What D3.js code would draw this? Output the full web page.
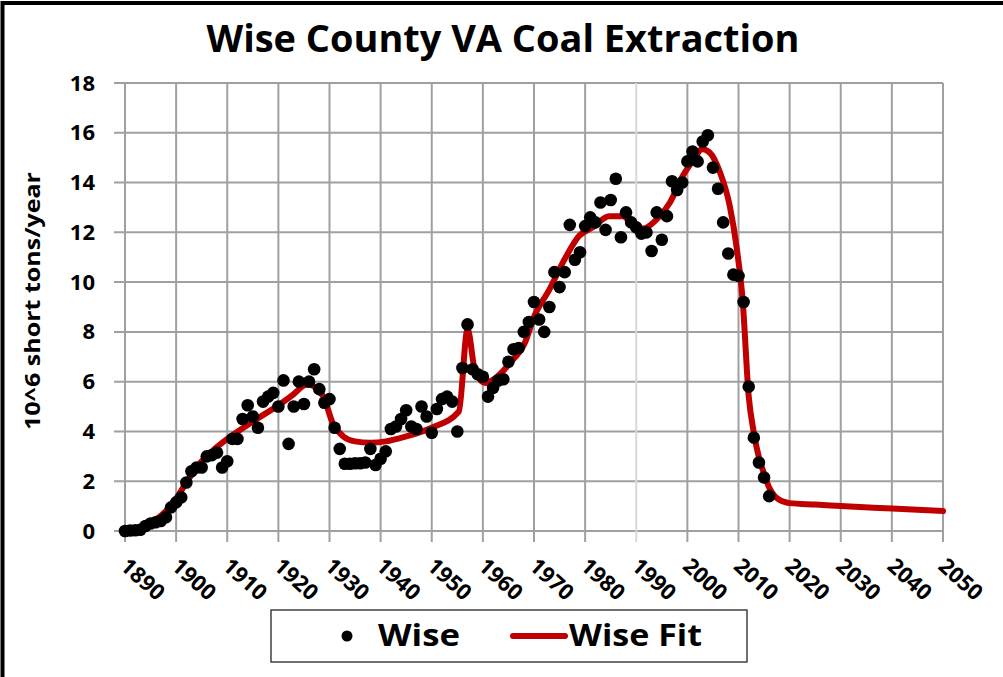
<!DOCTYPE html>
<html>
<head>
<meta charset="utf-8">
<script src="https://cdn.jsdelivr.net/npm/d3@7"></script>
<style>
  body { margin: 0; background: #fff; }
  svg { display: block; font-family: "Open Sans", "DejaVu Sans", sans-serif; }
</style>
</head>
<body>
<div id="chart"></div>
<script>
// Wise county production, 10^6 short tons/year
const wiseYears = [
  1890, 1891, 1892, 1893, 1894, 1895, 1896, 1897, 1898, 1899,
  1900, 1901, 1902, 1903, 1904, 1905, 1906, 1907, 1908, 1909,
  1910, 1911, 1912, 1913, 1914, 1915, 1916, 1917, 1918, 1919,
  1920, 1921, 1922, 1923, 1924, 1925, 1926, 1927, 1928, 1929,
  1930, 1931, 1932, 1933, 1934, 1935, 1936, 1937, 1938, 1939,
  1940, 1941, 1942, 1943, 1944, 1945, 1946, 1947, 1948, 1949,
  1950, 1951, 1952, 1953, 1954, 1955, 1956, 1957, 1958, 1959,
  1960, 1961, 1962, 1963, 1964, 1965, 1966, 1967, 1968, 1969,
  1970, 1971, 1972, 1973, 1974, 1975, 1976, 1977, 1978, 1979,
  1980, 1981, 1982, 1983, 1984, 1985, 1986, 1987, 1988, 1989,
  1990, 1991, 1992, 1993, 1994, 1995, 1996, 1997, 1998, 1999,
  2000, 2001, 2002, 2003, 2004, 2005, 2006, 2007, 2008, 2009,
  2010, 2011, 2012, 2013, 2014, 2015, 2016
];
const wiseValues = [
  0.0, 0.02, 0.03, 0.05, 0.2, 0.3, 0.35, 0.4, 0.55, 0.95,
  1.15, 1.35, 1.95, 2.4, 2.55, 2.55, 3.0, 3.05, 3.15, 2.55,
  2.8, 3.7, 3.7, 4.5, 5.05, 4.6, 4.15, 5.2, 5.4, 5.55,
  5.0, 6.05, 3.5, 5.0, 6.0, 5.1, 6.0, 6.5, 5.7, 5.15,
  5.3, 4.15, 3.3, 2.7, 2.7, 2.72, 2.72, 2.75, 3.3, 2.65,
  2.9, 3.2, 4.1, 4.2, 4.5, 4.85, 4.2, 4.1, 5.0, 4.6,
  3.95, 4.9, 5.3, 5.4, 5.2, 4.0, 6.55, 8.3, 6.5, 6.3,
  6.2, 5.4, 5.75, 6.05, 6.1, 6.8, 7.3, 7.35, 8.0, 8.4,
  9.2, 8.5, 8.0, 9.0, 10.4, 9.8, 10.4, 12.3, 10.9, 11.2,
  12.25, 12.6, 12.4, 13.2, 12.1, 13.3, 14.15, 11.8, 12.8, 12.4,
  12.2, 11.95, 12.0, 11.25, 12.8, 11.7, 12.65, 14.05, 13.7, 14.0,
  14.85, 15.25, 14.85, 15.65, 15.9, 14.6, 13.75, 12.4, 11.15, 10.3,
  10.25, 9.2, 5.8, 3.75, 2.75, 2.15, 1.4
];

// fitted curve
const fitYears = [
  1890, 1893, 1896, 1898, 1900, 1902, 1905, 1907, 1910, 1915,
  1920, 1923, 1925, 1926, 1927, 1928.8, 1930.7, 1932.7, 1935, 1938,
  1941, 1945, 1950, 1955.3, 1957, 1958.5, 1960.5, 1962.5, 1965.5, 1968.2,
  1970, 1973, 1976.2, 1978.8, 1981.5, 1984.7, 1987.4, 1989.3, 1991.3, 1993.9,
  1996.6, 1999.2, 2001.5, 2002.8, 2004.4, 2006.4, 2008.3, 2009.7, 2010.8, 2012,
  2013, 2014, 2015, 2016, 2017, 2018, 2019, 2020, 2025, 2030,
  2040, 2050
];
const fitValues = [
  0.03, 0.15, 0.45, 0.8, 1.3, 1.95, 2.8, 3.2, 3.7, 4.4,
  5.05, 5.5, 5.85, 5.9, 5.8, 5.4, 4.3, 3.8, 3.6, 3.55,
  3.6, 3.8, 4.15, 4.8, 8.1, 6.4, 5.95, 6.15, 6.8, 7.55,
  8.6, 9.7, 11.0, 11.85, 12.2, 12.65, 12.65, 12.3, 12.15, 12.5,
  13.2, 14.3, 15.0, 15.35, 15.2, 14.4, 13.05, 11.3, 9.3, 5.4,
  3.95, 2.95, 2.3, 1.75, 1.42, 1.25, 1.17, 1.12, 1.06, 1.0,
  0.9, 0.8
];

const xTicks = [1890, 1900, 1910, 1920, 1930, 1940, 1950, 1960, 1970, 1980,
  1990, 2000, 2010, 2020, 2030, 2040, 2050];
const yTicks = [0, 2, 4, 6, 8, 10, 12, 14, 16, 18];

const width = 1003;
const height = 677;
const plot = { left: 125, right: 943, top: 83, bottom: 531 };
const gridColor = '#a0a0a0';
const fitColor = '#c00000';

const svg = d3.select('#chart')
  .append('svg')
  .attr('width', width)
  .attr('height', height);

svg.append('rect')
  .attr('width', width)
  .attr('height', height)
  .attr('fill', '#fff');

// outer frame (only top and left show in the original)
svg.append('path')
  .attr('d', `M2.5,${height} V3 H${width}`)
  .attr('fill', 'none')
  .attr('stroke', '#000')
  .attr('stroke-width', 4);

const x = d3.scaleLinear().domain([1890, 2050]).range([plot.left, plot.right]);
const y = d3.scaleLinear().domain([0, 18]).range([plot.bottom, plot.top]);

// grid
svg.append('g')
  .selectAll('line')
  .data(yTicks)
  .enter()
  .append('line')
  .attr('x1', plot.left - 11)
  .attr('x2', plot.right)
  .attr('y1', d => y(d))
  .attr('y2', d => y(d))
  .attr('stroke', gridColor)
  .attr('stroke-width', 2);

svg.append('g')
  .selectAll('line')
  .data(xTicks)
  .enter()
  .append('line')
  .attr('x1', d => x(d))
  .attr('x2', d => x(d))
  .attr('y1', plot.top)
  .attr('y2', plot.bottom + 11)
  .attr('stroke', d => d === 1990 ? '#d8d8d8' : gridColor)
  .attr('stroke-width', 2);

// y axis labels
const yAxis = svg.append('g')
  .attr('transform', `translate(${plot.left},0)`)
  .call(d3.axisLeft(y).tickValues(yTicks).tickSize(0).tickPadding(30));
yAxis.select('.domain').remove();
yAxis.selectAll('text')
  .attr('font-family', '"Open Sans", sans-serif')
  .attr('font-size', 22)
  .attr('font-weight', 700)
  .attr('fill', '#000');

// x axis labels, slanted
svg.append('g')
  .selectAll('text')
  .data(xTicks)
  .enter()
  .append('text')
  .attr('transform', d => `translate(${x(d) - 6},${plot.bottom + 37}) rotate(42)`)
  .attr('font-size', 22)
  .attr('font-weight', 700)
  .attr('fill', '#000')
  .text(d => d);

// title
svg.append('text')
  .attr('x', 503)
  .attr('y', 52)
  .attr('text-anchor', 'middle')
  .attr('font-size', 38)
  .attr('font-weight', 700)
  .attr('textLength', 593)
  .attr('lengthAdjust', 'spacingAndGlyphs')
  .text('Wise County VA Coal Extraction');

// y axis title
svg.append('text')
  .attr('transform', 'translate(40,301) rotate(-90)')
  .attr('text-anchor', 'middle')
  .attr('font-size', 21)
  .attr('font-weight', 700)
  .attr('textLength', 258)
  .attr('lengthAdjust', 'spacingAndGlyphs')
  .text('10^6 short tons/year');

// fit line
const fitPoints = fitYears.map((yr, i) => [yr, fitValues[i]]);
const line = d3.line()
  .x(d => x(d[0]))
  .y(d => y(d[1]))
  .curve(d3.curveMonotoneX);

svg.append('path')
  .datum(fitPoints)
  .attr('d', line)
  .attr('fill', 'none')
  .attr('stroke', fitColor)
  .attr('stroke-width', 6)
  .attr('stroke-linejoin', 'round')
  .attr('stroke-linecap', 'round');

// data dots
svg.append('g')
  .selectAll('circle')
  .data(wiseYears.map((yr, i) => [yr, wiseValues[i]]))
  .enter()
  .append('circle')
  .attr('cx', d => x(d[0]))
  .attr('cy', d => y(d[1]))
  .attr('r', 6.3)
  .attr('fill', '#000');

// legend
const legend = svg.append('g');
legend.append('rect')
  .attr('x', 271)
  .attr('y', 610)
  .attr('width', 476)
  .attr('height', 52)
  .attr('fill', '#fff')
  .attr('stroke', '#404040')
  .attr('stroke-width', 1.5);

legend.append('circle')
  .attr('cx', 347)
  .attr('cy', 636)
  .attr('r', 5.5)
  .attr('fill', '#000');

legend.append('text')
  .attr('x', 378)
  .attr('y', 646)
  .attr('font-size', 31)
  .attr('font-weight', 700)
  .attr('textLength', 82)
  .attr('lengthAdjust', 'spacingAndGlyphs')
  .text('Wise');

legend.append('line')
  .attr('x1', 513)
  .attr('x2', 565)
  .attr('y1', 636)
  .attr('y2', 636)
  .attr('stroke', fitColor)
  .attr('stroke-width', 6)
  .attr('stroke-linecap', 'round');

legend.append('text')
  .attr('x', 569)
  .attr('y', 646)
  .attr('font-size', 31)
  .attr('font-weight', 700)
  .attr('textLength', 133)
  .attr('lengthAdjust', 'spacingAndGlyphs')
  .text('Wise Fit');
</script>
</body>
</html>
